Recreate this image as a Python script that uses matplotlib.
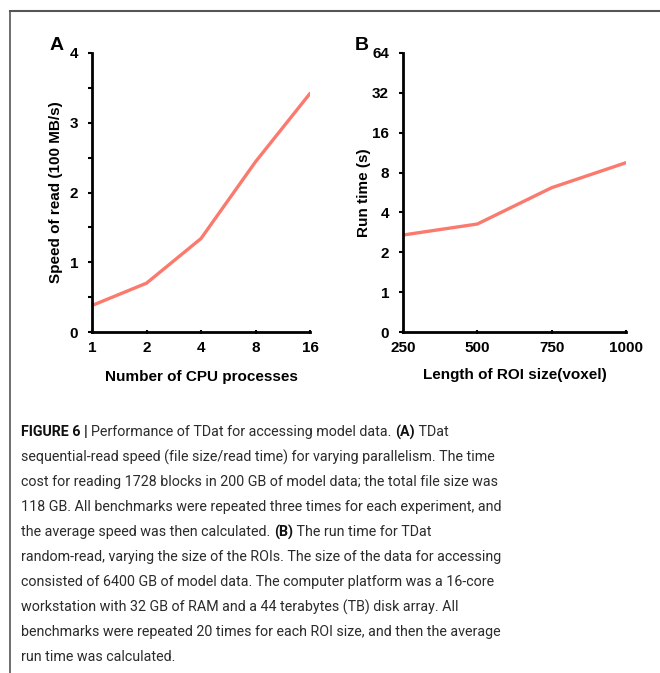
import matplotlib.pyplot as plt
from matplotlib.lines import Line2D

# Panel A: sequential-read speed vs parallelism
cpu_procs = [1, 2, 4, 8, 16]
read_speed = [0.38, 0.70, 1.34, 2.44, 3.42]

# Panel B: random-read run time vs ROI size
roi_size = [250, 500, 750, 1000]
run_time = [2.7, 3.27, 6.15, 9.5]
b_ticks = [0.5, 1, 2, 4, 8, 16, 32, 64]
b_tick_labels = ["0", "1", "2", "4", "8", "16", "32", "64"]

caption_lines = [
    ("FIGURE 6 | ", "Performance of TDat for accessing model data. ", "(A)", " TDat"),
    ("", "sequential-read speed (file size/read time) for varying parallelism. The time", "", ""),
    ("", "cost for reading 1728 blocks in 200 GB of model data; the total file size was", "", ""),
    ("", "118 GB. All benchmarks were repeated three times for each experiment, and", "", ""),
    ("", "the average speed was then calculated. ", "(B)", " The run time for TDat"),
    ("", "random-read, varying the size of the ROIs. The size of the data for accessing", "", ""),
    ("", "consisted of 6400 GB of model data. The computer platform was a 16-core", "", ""),
    ("", "workstation with 32 GB of RAM and a 44 terabytes (TB) disk array. All", "", ""),
    ("", "benchmarks were repeated 20 times for each ROI size, and then the average", "", ""),
    ("", "run time was calculated.", "", ""),
]

line_color = "#FA7A6E"
plt.rcParams['font.family'] = ['Liberation Sans', 'DejaVu Sans']

W, H = 660, 673
fig = plt.figure(figsize=(W / 100, H / 100), dpi=100)


def px_axes(x0, y0, x1, y1):
    return fig.add_axes([x0 / W, 1 - y1 / H, (x1 - x0) / W, (y1 - y0) / H])


def style_axes(ax):
    for side in ["top", "right"]:
        ax.spines[side].set_visible(False)
    for side in ["left", "bottom"]:
        ax.spines[side].set_linewidth(2.0)
    for lab in ax.get_xticklabels() + ax.get_yticklabels():
        lab.set_fontweight("bold")
        lab.set_fontsize(11)


# ---- Panel A
axA = px_axes(92, 53, 310, 332)
axA.plot(cpu_procs, read_speed, color=line_color, lw=2.4, solid_capstyle="round")
axA.set_xscale("log", base=2)
axA.set_xlim(1, 16)
axA.set_ylim(0, 4)
axA.set_xticks(cpu_procs)
axA.set_xticklabels([str(c) for c in cpu_procs])
axA.minorticks_off()
axA.set_yticks([0, 1, 2, 3, 4])
axA.set_yticks([0.5, 1.5, 2.5, 3.5], minor=True)
axA.tick_params(axis="y", which="both", direction="out", length=3, width=1.5, pad=7)
axA.tick_params(axis="x", which="both", direction="inout", length=3, width=1.5, pad=5)
axA.set_xlabel("Number of CPU processes", fontsize=11, fontweight="bold", labelpad=11)
axA.set_ylabel("Speed of read (100 MB/s)", fontsize=11, fontweight="bold", labelpad=4.5)
style_axes(axA)
fig.text(50 / W, 1 - 46 / H, "A", fontsize=14, fontweight="bold", va="center")

# ---- Panel B
axB = px_axes(403, 53, 626, 332)
axB.plot(roi_size, run_time, color=line_color, lw=2.4, solid_capstyle="round")
axB.set_yscale("log", base=2)
axB.set_ylim(0.5, 64)
axB.set_xlim(250, 1000)
axB.set_xticks(roi_size)
axB.set_yticks(b_ticks)
axB.set_yticklabels(b_tick_labels)
axB.minorticks_off()
axB.tick_params(axis="y", direction="out", length=3, width=1.5, pad=7)
axB.tick_params(axis="x", direction="inout", length=3, width=1.5, pad=5)
axB.set_xlabel("Length of ROI size(voxel)", fontsize=11, fontweight="bold", labelpad=9)
axB.set_ylabel("Run time (s)", fontsize=11, fontweight="bold", labelpad=1)
style_axes(axB)
fig.text(355 / W, 1 - 46 / H, "B", fontsize=14, fontweight="bold", va="center")

# ---- frame lines (top and left)
fig.add_artist(Line2D([9.5 / W, 1], [1 - 11 / H, 1 - 11 / H], transform=fig.transFigure,
                      color="#555555", lw=1.5))
fig.add_artist(Line2D([9.5 / W, 9.5 / W], [0, 1 - 11 / H], transform=fig.transFigure,
                      color="#555555", lw=1.2))

# ---- caption
cap_font = ['Roboto', 'Liberation Sans']
renderer = fig.canvas.get_renderer()
y = 432
for bold0, normal, bold1, tail in caption_lines:
    x = 21
    for txt, weight in [(bold0, "bold"), (normal, "normal"), (bold1, "bold"), (tail, "normal")]:
        if not txt:
            continue
        t = fig.text(x / W, 1 - y / H, txt, fontsize=10.3, fontweight=weight, family=cap_font,
                     color="#2b2b2b" if weight == "normal" else "#111111", va="center")
        bb = t.get_window_extent(renderer=renderer)
        x += bb.width
    y += 25

fig.savefig("out.png", dpi=100)
